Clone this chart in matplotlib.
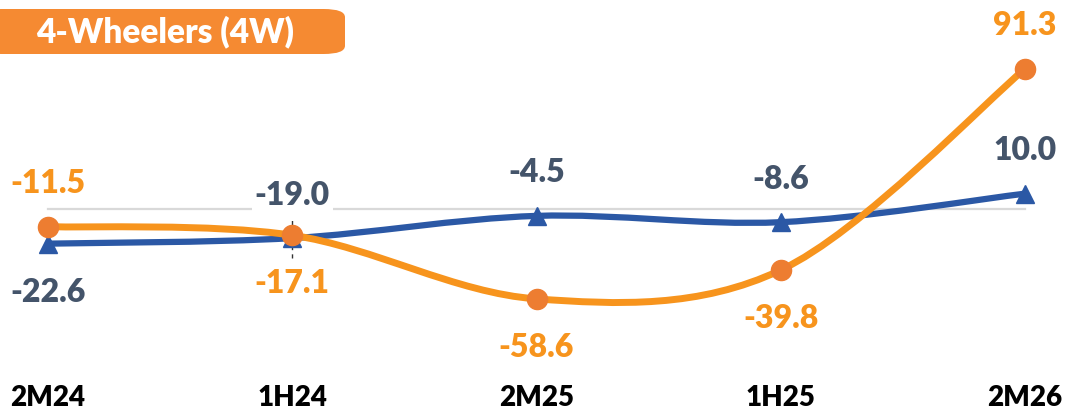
import numpy as np
import matplotlib.pyplot as plt
from matplotlib.path import Path
from matplotlib.patches import PathPatch, FancyBboxPatch

# Data
periods = ['2M24', '1H24', '2M25', '1H25', '2M26']
blue_vals = [-22.6, -19.0, -4.5, -8.6, 10.0]
orange_vals = [-11.5, -17.1, -58.6, -39.8, 91.3]
blue_side = ['below', 'above', 'above', 'above', 'above']
orange_side = ['above', 'below', 'below', 'below', 'above']

plt.rcParams['font.family'] = ['Lato', 'DejaVu Sans']

BLUE = '#2B58A5'
BLUE_TXT = '#44546A'
ORANGE = '#F7941D'
ORANGE_MK = '#ED7D31'


def smooth_path(xs, ys):
    # Excel-like smoothed line: cubic Bezier through each point
    pts = np.column_stack([xs, ys]).astype(float)
    ext = np.vstack([pts[0], pts, pts[-1]])
    verts = [pts[0]]
    codes = [Path.MOVETO]
    for i in range(len(pts) - 1):
        p0, p1, p2, p3 = ext[i], ext[i + 1], ext[i + 2], ext[i + 3]
        verts += [p1 + (p2 - p0) / 6, p2 - (p3 - p1) / 6, p2]
        codes += [Path.CURVE4] * 3
    return Path(verts, codes)


fig = plt.figure(figsize=(10.68, 4.11), dpi=100)
ax = fig.add_axes([0, 36 / 411, 1, 375 / 411])
x = np.arange(len(periods))

# zero line
ax.plot([x[0], x[-1]], [0, 0], color='#D9D9D9', lw=1.6, zorder=1)
ax.vlines(x[1], -32, -5, colors='#333333', linestyles=(0, (3, 3)), lw=1, zorder=1)

ax.add_patch(PathPatch(smooth_path(x, blue_vals), fc='none', ec=BLUE, lw=4.5,
                       capstyle='round', zorder=3))
ax.plot(x, blue_vals, ls='none', marker='^', ms=13, color=BLUE, zorder=4)

ax.add_patch(PathPatch(smooth_path(x, orange_vals), fc='none', ec=ORANGE, lw=5,
                       capstyle='round', zorder=5))
ax.plot(x, orange_vals, ls='none', marker='o', ms=14.5, color=ORANGE_MK, zorder=6)

for vals, sides, col in [(blue_vals, blue_side, BLUE_TXT), (orange_vals, orange_side, ORANGE)]:
    for i, (v, s) in enumerate(zip(vals, sides)):
        dy = 31 if s == 'above' else -35
        ax.annotate(f'{v:.1f}', (x[i], v), xytext=(0, dy), textcoords='offset points',
                    ha='center', va='center', fontsize=23, fontweight='heavy', color=col,
                    bbox=dict(fc='white', ec='none', pad=2), zorder=2)

ax.set_xlim(-0.1965, 4.176)
ax.set_ylim(-108.2, 136.2)
ax.set_xticks(x, periods)
ax.set_yticks([])
ax.tick_params(axis='x', length=0, pad=7, labelsize=20, labelcolor='black')
for lbl in ax.get_xticklabels():
    lbl.set_fontweight('heavy')
for sp in ax.spines.values():
    sp.set_visible(False)

# title box
fig.patches.append(FancyBboxPatch((-20 / 1068, 1 - 54 / 411), 365 / 1068, 45 / 411,
                                  boxstyle='round,pad=0,rounding_size=0.02',
                                  transform=fig.transFigure, fc='#F58A32', ec='none'))
fig.text(165 / 1068, 1 - 31.5 / 411, '4-Wheelers (4W)', ha='center', va='center',
         fontsize=24, fontweight='heavy', color='white')

plt.savefig('out.png', dpi=100)
